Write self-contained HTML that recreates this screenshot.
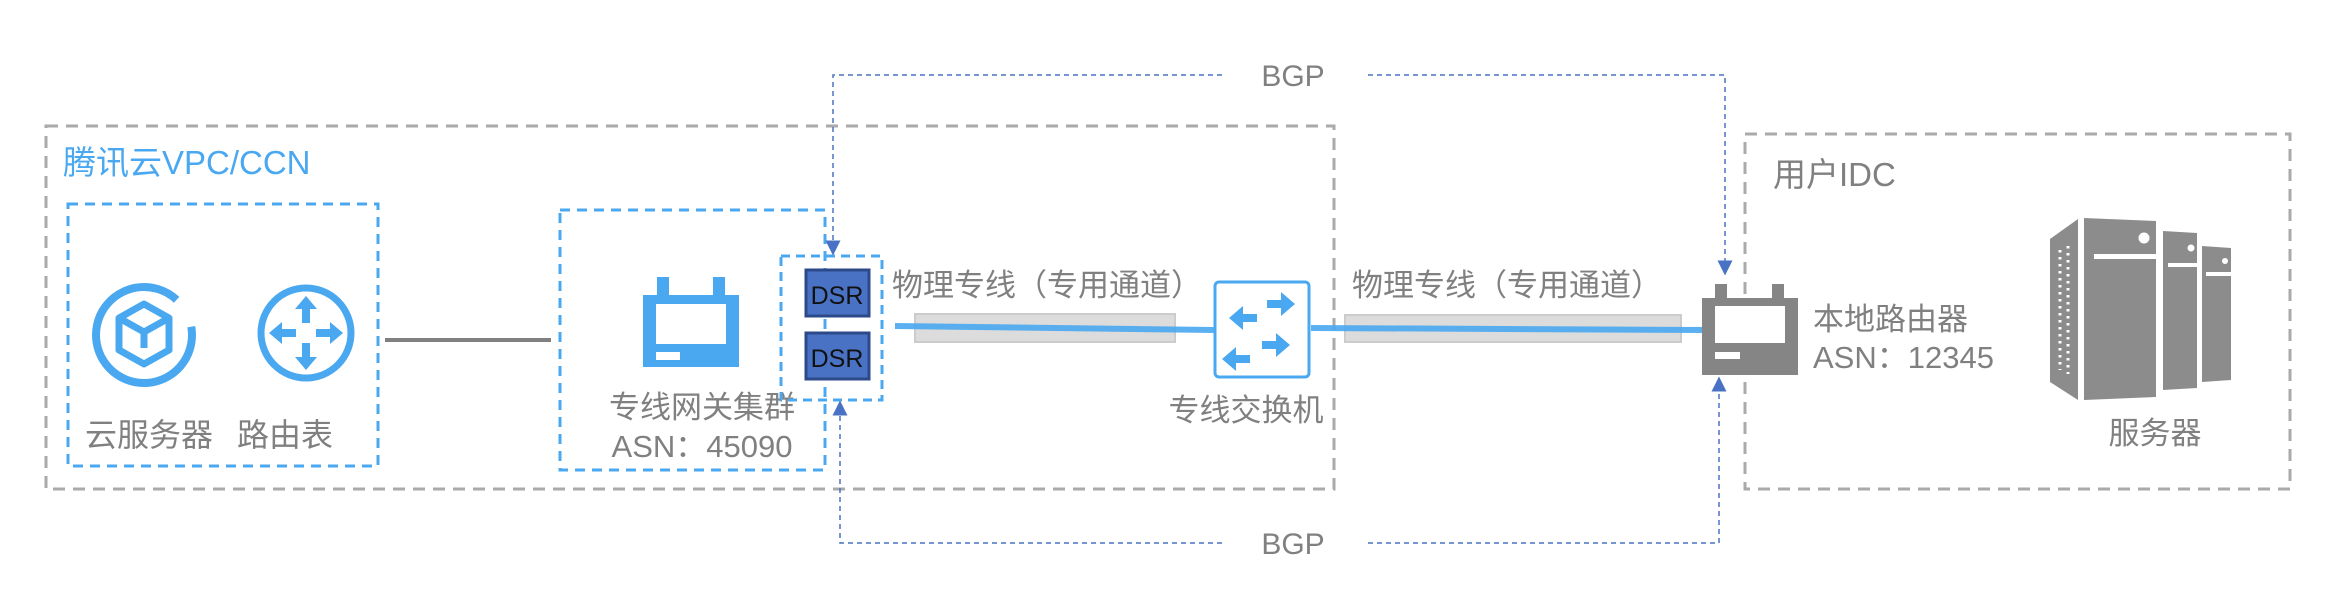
<!DOCTYPE html>
<html><head><meta charset="utf-8"><style>
html,body{margin:0;padding:0;background:#fff;}
svg{display:block;}
text{font-family:"Liberation Sans","Noto Sans CJK SC",sans-serif;}
</style></head><body>
<svg width="2352" height="592" viewBox="0 0 2352 592" xmlns="http://www.w3.org/2000/svg">
<defs>
<marker id="ar" viewBox="0 0 10 10" refX="9" refY="5" markerWidth="15" markerHeight="15" markerUnits="userSpaceOnUse" orient="auto"><path d="M0,0 L10,5 L0,10 z" fill="#4a72c4"/></marker>
</defs>
<rect x="46" y="126" width="1288" height="363" fill="none" stroke="#aaa" stroke-width="3" stroke-dasharray="12,8"/>
<rect x="1745" y="134" width="545" height="355" fill="none" stroke="#aaa" stroke-width="3" stroke-dasharray="12,8"/>
<text x="63" y="174" font-size="33" fill="#4aa8f0">腾讯云VPC/CCN</text>
<text x="1773" y="186" font-size="33" fill="#808080">用户IDC</text>

<rect x="68" y="204" width="310" height="262" fill="none" stroke="#4aa8f0" stroke-width="3" stroke-dasharray="10,7"/>
<circle cx="144" cy="335" r="48" fill="none" stroke="#4aa8f0" stroke-width="8" stroke-dasharray="270,32" transform="rotate(-10 144 335)"/>
<path d="M144,304 l25,14 v32 l-25,14 l-25,-14 v-32 z M119,318 l25,14 l25,-14 M144,332 v16" fill="none" stroke="#4aa8f0" stroke-width="7" stroke-linejoin="round"/>
<circle cx="306" cy="333" r="45" fill="none" stroke="#4aa8f0" stroke-width="7"/>
<path d="M306,296 l-11,13 h7 v14 h8 v-14 h7 z M306,370 l-11,-13 h7 v-14 h8 v14 h7 z M269,333 l13,-11 v7 h14 v8 h-14 v7 z M343,333 l-13,-11 v7 h-14 v8 h14 v7 z" fill="#4aa8f0"/>
<text x="85" y="446" font-size="32" fill="#808080">云服务器</text>
<text x="237" y="446" font-size="32" fill="#808080">路由表</text>

<line x1="385" y1="340" x2="551" y2="340" stroke="#808080" stroke-width="4"/>

<rect x="560" y="210" width="265" height="260" fill="none" stroke="#4aa8f0" stroke-width="3" stroke-dasharray="10,7"/>
<rect x="643" y="295" width="96" height="72" fill="#4aa8f0"/>
<rect x="657" y="277" width="12" height="20" fill="#4aa8f0"/>
<rect x="713" y="277" width="12" height="20" fill="#4aa8f0"/>
<rect x="656" y="304" width="70" height="40" fill="#fff"/>
<rect x="656" y="352" width="24" height="8" fill="#fff"/>
<text x="702" y="418" font-size="31" fill="#808080" text-anchor="middle">专线网关集群</text>
<text x="702" y="457" font-size="31" fill="#808080" text-anchor="middle">ASN：45090</text>

<rect x="781" y="256" width="101" height="144" fill="none" stroke="#4aa8f0" stroke-width="3" stroke-dasharray="9,6"/>
<rect x="806" y="270" width="63" height="46" fill="#4a72c4" stroke="#2c4a8a" stroke-width="3"/>
<rect x="806" y="333" width="63" height="46" fill="#4a72c4" stroke="#2c4a8a" stroke-width="3"/>
<text x="837" y="304" font-size="25" fill="#111" text-anchor="middle">DSR</text>
<text x="837" y="367" font-size="25" fill="#111" text-anchor="middle">DSR</text>

<path d="M1222,75 H833 V254" fill="none" stroke="#4a72c4" stroke-width="1.5" stroke-dasharray="5,4" marker-end="url(#ar)"/>
<path d="M1368,75 H1725 V274" fill="none" stroke="#4a72c4" stroke-width="1.5" stroke-dasharray="5,4" marker-end="url(#ar)"/>
<text x="1293" y="86" font-size="30" fill="#808080" text-anchor="middle">BGP</text>
<path d="M1222,543 H840 V402" fill="none" stroke="#4a72c4" stroke-width="1.5" stroke-dasharray="5,4" marker-end="url(#ar)"/>
<path d="M1368,543 H1719 V378" fill="none" stroke="#4a72c4" stroke-width="1.5" stroke-dasharray="5,4" marker-end="url(#ar)"/>
<text x="1293" y="554" font-size="30" fill="#808080" text-anchor="middle">BGP</text>

<rect x="915" y="314" width="260" height="28" fill="#dcdcdc" stroke="#ccc" stroke-width="2"/>
<rect x="1345" y="315" width="336" height="27" fill="#dcdcdc" stroke="#ccc" stroke-width="2"/>
<line x1="895" y1="326" x2="1215" y2="330" stroke="#4aa8f0" stroke-width="6" opacity="0.9"/>
<line x1="1311" y1="328" x2="1705" y2="330" stroke="#4aa8f0" stroke-width="6" opacity="0.9"/>
<text x="892" y="296" font-size="31" fill="#808080">物理专线（专用通道）</text>
<text x="1352" y="296" font-size="31" fill="#808080">物理专线（专用通道）</text>

<rect x="1215" y="282" width="94" height="95" rx="4" fill="#fff" stroke="#4aa8f0" stroke-width="3"/>
<path d="M1267,300 h14 v-8 l14,12 l-14,12 v-8 h-14 z M1257,314 h-14 v-8 l-14,12 l14,12 v-8 h14 z M1262,341 h14 v-8 l14,12 l-14,12 v-8 h-14 z M1250,355 h-14 v-8 l-14,12 l14,12 v-8 h14 z" fill="#4aa8f0"/>
<text x="1246" y="421" font-size="31" fill="#808080" text-anchor="middle">专线交换机</text>

<rect x="1702" y="298" width="96" height="77" fill="#858585"/>
<rect x="1715" y="284" width="12" height="16" fill="#858585"/>
<rect x="1772" y="284" width="12" height="16" fill="#858585"/>
<rect x="1715" y="306" width="70" height="37" fill="#fff"/>
<rect x="1715" y="352" width="25" height="7" fill="#fff"/>
<text x="1813" y="330" font-size="31" fill="#808080">本地路由器</text>
<text x="1813" y="368" font-size="31" fill="#808080">ASN：12345</text>

<!-- servers -->
<path d="M2078,219 L2050,239 V382 L2078,400 z" fill="#8c8c8c"/>
<path d="M2084,218 L2156,221 V397 L2084,400 z" fill="#8c8c8c"/>
<path d="M2163,231 L2197,233 V388 L2163,390 z" fill="#8c8c8c"/>
<path d="M2202,246 L2231,248 V380 L2202,382 z" fill="#8c8c8c"/>
<rect x="2094" y="254" width="62" height="5" fill="#fff"/>
<rect x="2168" y="263" width="29" height="4" fill="#fff"/>
<rect x="2206" y="272" width="25" height="4" fill="#fff"/>
<circle cx="2144" cy="238" r="5.5" fill="#fff"/>
<circle cx="2191" cy="248" r="3.5" fill="#fff"/>
<circle cx="2225" cy="261" r="3" fill="#fff"/>
<g fill="none" stroke="#fff" stroke-width="3" stroke-dasharray="2.5,4.5">
<line x1="2060" y1="250" x2="2060" y2="370"/>
<line x1="2068" y1="246" x2="2068" y2="374"/>
</g>
<text x="2155" y="444" font-size="31" fill="#808080" text-anchor="middle">服务器</text>
</svg>
</body></html>
